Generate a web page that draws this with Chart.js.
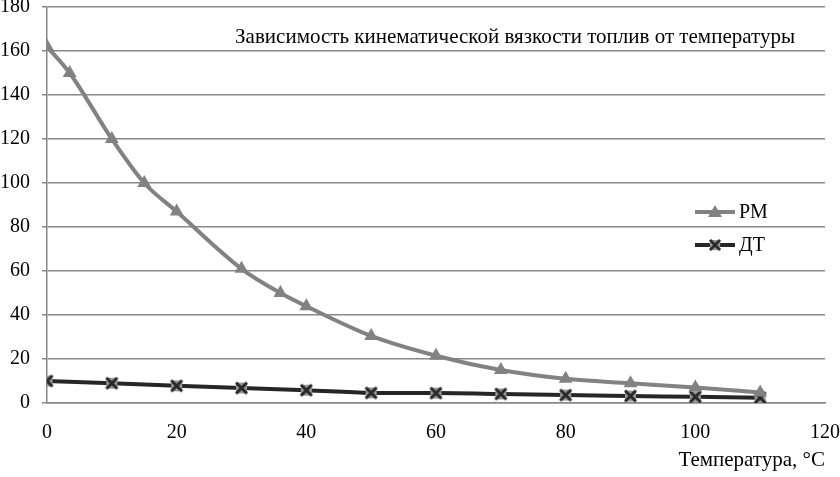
<!DOCTYPE html>
<html>
<head>
<meta charset="utf-8">
<script src="https://cdn.jsdelivr.net/npm/chart.js@4"></script>
<style>
  html, body { margin: 0; padding: 0; background: #fff; }
  #wrap { position: relative; width: 840px; height: 477px; overflow: hidden; }
  #inner { position: absolute; left: 0; top: -17px; width: 852px; height: 494px; }
</style>
</head>
<body>
<div id="wrap"><div id="inner"><canvas id="viscosity"></canvas></div></div>
<script>
// data
const rmTemps = [0, 3.5, 10, 15, 20, 30, 36, 40, 50, 60, 70, 80, 90, 100, 110];
const rmVisc = [162, 150, 120, 100, 87, 61, 50, 44, 30.5, 21.5, 15, 11, 9, 7, 4.8];
const dtTemps = [0, 10, 20, 30, 40, 50, 60, 70, 80, 90, 100, 110];
const dtVisc = [10, 9, 7.8, 6.8, 5.8, 4.6, 4.5, 4.1, 3.6, 3.2, 2.8, 2.4];
const seriesNames = ['РМ', 'ДТ'];
const chartTitle = 'Зависимость кинематической вязкости топлив от температуры';
const xAxisTitle = 'Температура, °С';

const FONT = '"Liberation Serif", "DejaVu Serif", serif';
const RM_COLOR = '#828282';
const DT_COLOR = '#262626';

// X marker with grey fill, like the office chart
function crossMarker(size) {
  const c = document.createElement('canvas');
  c.width = size; c.height = size;
  const g = c.getContext('2d');
  g.fillStyle = '#9a9a9a';
  g.fillRect(2, 2, size - 4, size - 4);
  g.strokeStyle = DT_COLOR;
  g.lineWidth = 3;
  g.beginPath();
  g.moveTo(2, 2); g.lineTo(size - 2, size - 2);
  g.moveTo(size - 2, 2); g.lineTo(2, size - 2);
  g.stroke();
  return c;
}
const xMark = crossMarker(15);

const toPoints = (xs, ys) => xs.map((x, i) => ({ x: x, y: ys[i] }));

// title and legend sit inside the plot area
const insideText = {
  id: 'insideText',
  afterDraw(chart) {
    const ctx = chart.ctx;
    const a = chart.chartArea;
    ctx.save();
    ctx.fillStyle = '#000';
    ctx.font = '21px ' + FONT;
    ctx.textAlign = 'right';
    ctx.textBaseline = 'middle';
    ctx.fillText(chartTitle, a.right - 30, a.top + 30);

    ctx.font = '20px ' + FONT;
    ctx.textAlign = 'left';
    const lx = a.right - 130;
    const rows = [a.top + 205, a.top + 238];
    // RM
    ctx.strokeStyle = RM_COLOR;
    ctx.lineWidth = 4;
    ctx.beginPath(); ctx.moveTo(lx, rows[0]); ctx.lineTo(lx + 40, rows[0]); ctx.stroke();
    ctx.fillStyle = RM_COLOR;
    ctx.beginPath();
    ctx.moveTo(lx + 20, rows[0] - 7); ctx.lineTo(lx + 27, rows[0] + 5); ctx.lineTo(lx + 13, rows[0] + 5);
    ctx.closePath(); ctx.fill();
    ctx.fillStyle = '#000';
    ctx.fillText(seriesNames[0], lx + 44, rows[0] + 1);
    // DT
    ctx.strokeStyle = DT_COLOR;
    ctx.beginPath(); ctx.moveTo(lx, rows[1]); ctx.lineTo(lx + 40, rows[1]); ctx.stroke();
    ctx.drawImage(xMark, lx + 20 - 7, rows[1] - 7, 14, 14);
    ctx.fillStyle = '#000';
    ctx.fillText(seriesNames[1], lx + 44, rows[1] + 1);
    ctx.restore();
  }
};

new Chart(document.getElementById('viscosity'), {
  type: 'line',
  data: {
    datasets: [{
      label: seriesNames[0],
      data: toPoints(rmTemps, rmVisc),
      borderColor: RM_COLOR,
      backgroundColor: RM_COLOR,
      borderWidth: 4,
      pointStyle: 'triangle',
      pointRadius: 8,
      pointBorderWidth: 0,
      cubicInterpolationMode: 'monotone',
    }, {
      label: seriesNames[1],
      data: toPoints(dtTemps, dtVisc),
      borderColor: DT_COLOR,
      backgroundColor: DT_COLOR,
      borderWidth: 4,
      pointStyle: xMark,
      cubicInterpolationMode: 'monotone',
    }],
  },
  options: {
    responsive: true,
    maintainAspectRatio: false,
    animation: false,
    layout: { padding: { top: 7, right: 0, left: 0, bottom: 0 } },
    plugins: {
      legend: { display: false },
      tooltip: { enabled: false },
    },
    scales: {
      x: {
        type: 'linear',
        min: 0,
        max: 120,
        ticks: { stepSize: 20, color: '#000', font: { family: FONT, size: 20 }, padding: 12 },
        grid: { display: false, drawOnChartArea: false, drawTicks: true, tickLength: 6, color: '#888' },
        border: { color: '#888', width: 1.5 },
        title: { display: true, text: xAxisTitle, align: 'end', color: '#000', font: { family: FONT, size: 21 }, padding: { top: 4 } },
        afterFit(scale) { scale.height = 74; },
      },
      y: {
        min: 0,
        max: 180,
        ticks: { stepSize: 20, color: '#000', font: { family: FONT, size: 20 }, padding: 12 },
        grid: { color: '#888', lineWidth: 1.5, tickLength: 5 },
        border: { color: '#888', width: 1.5 },
        afterFit(scale) { scale.width = 47; },
      },
    },
  },
  plugins: [insideText],
});
</script>
</body>
</html>
